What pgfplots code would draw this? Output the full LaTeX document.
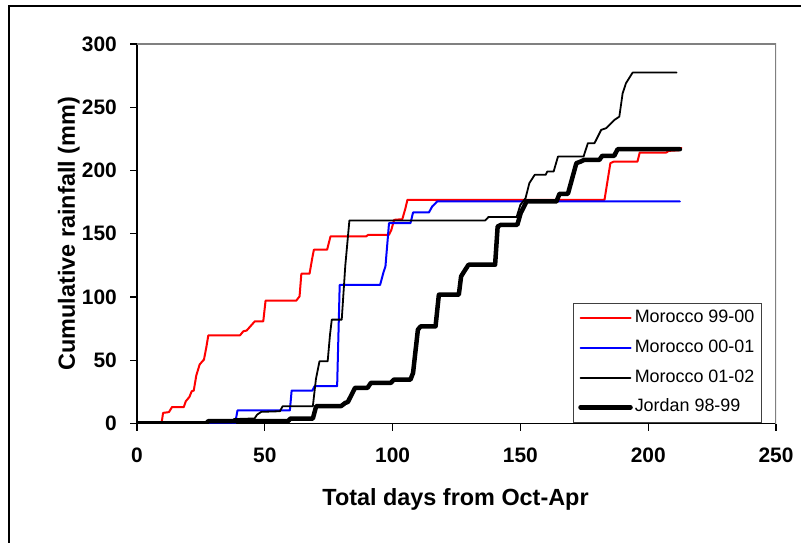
\documentclass[border=0pt]{standalone}
\usepackage{pgfplots}
\pgfplotsset{compat=1.18}
\usepackage{fontspec}
\setmainfont{Liberation Sans}
\begin{document}
\begin{tikzpicture}
\useasboundingbox (0bp,0bp) rectangle (801bp,543bp);
\draw[line width=1.2bp] (9bp,0bp) -- (9bp,537bp) -- (801bp,537bp);
\begin{axis}[
  at={(137bp,119.5bp)}, anchor=south west, scale only axis,
  width=639bp, height=379.5bp,
  xmin=0, xmax=250, ymin=0, ymax=300,
  xtick={0,50,...,250}, ytick={0,50,...,300},
  axis x line*=bottom, axis y line*=left,
  axis line style={black, line width=1.3bp, -},
  tick align=outside, major tick length=7bp,
  tick style={black, line width=1.1bp},
  /pgf/number format/assume math mode=true,
  ticklabel style={font=\bfseries\fontsize{21}{25}\selectfont, inner sep=0pt},
  xticklabel style={anchor=base, yshift=-32bp},
  yticklabel style={anchor=east, xshift=-13bp},
  xlabel={Total days from Oct-Apr},
  ylabel={Cumulative rainfall (mm)},
  xlabel style={at={(axis description cs:0.4985,-0.2148)}, anchor=base, inner sep=0pt, font=\bfseries\fontsize{23.5}{28}\selectfont},
  ylabel style={at={(axis description cs:-0.0973,0.5)}, anchor=base, inner sep=0pt, font=\bfseries\fontsize{23.5}{28}\selectfont},
  legend cell align=left,
  legend image code/.code={\draw[#1] (0bp,0bp) -- (50bp,0bp);},
  legend style={at={(axis description cs:0.682,0.3175)}, anchor=north west,
    draw=black!75, line width=0.9bp, fill=white,
    font=\fontsize{18}{20}\selectfont,
    inner xsep=5bp, inner ysep=5bp, row sep=10.2bp,
    nodes={inner xsep=2bp, inner ysep=1.5bp, text height=12.9bp, text depth=3.6bp}},
  every axis plot/.append style={line join=round, line cap=round},
]
\addplot[red, line width=2bp] coordinates {
(0,0)(9.6,0)(10.2,8.4)(12.5,9)(13.7,13)(18.3,13)(19.1,17.6)(20.5,21)(21.4,25.5)(22.2,26)(23.2,38)(24.5,46.6)(25.5,49)(26.2,50.5)(27.1,60)(27.9,69.7)(40.3,69.7)(41.6,72.9)(42.9,73.5)(44,76)(46.1,80.8)(49.4,80.8)(50.3,97.1)(62.3,97.1)(63.6,100.5)(64.3,118.4)(67.5,118.4)(68.5,130)(69.2,137.4)(74.4,137.4)(75.7,147.9)(89.6,147.9)(90.5,149.2)(98.6,149.2)(99.5,153)(100.6,161)(103.8,161.5)(105,170)(105.8,176.8)(182.9,176.8)(185.2,205.8)(186.5,207)(195.8,207)(196.7,214.2)(207.1,214.2)(208,215.5)(212,216)(213,218)
};
\addlegendentry{Morocco 99-00}
\addplot[blue, line width=2bp] coordinates {
(0,0)(38.4,0)(39.3,10.3)(59.8,10.3)(60.5,26)(68.6,26)(69.5,29.5)(78.3,29.5)(79.3,109.5)(95.1,109.5)(96.5,120)(97.2,124.2)(98.6,158.4)(107,158.4)(108,166.8)(114.2,166.8)(115.5,171.6)(116.5,173.5)(117.4,175.5)(212.4,175.5)
};
\addlegendentry{Morocco 00-01}
\addplot[black, line width=1.8bp] coordinates {
(0,0)(27,0)(28,1)(37,1)(38,3.5)(46,4)(47,7)(48.6,9.2)(55.9,9.7)(57,13.7)(68.8,13.7)(70,35)(71.4,49.2)(74.6,49.2)(75.5,70)(76.2,82.1)(80.1,82.1)(81.5,125)(83.1,160.5)(136.2,160.5)(137.5,163.2)(148.5,163.2)(150,172.9)(152,178)(153.5,190)(155.6,196.6)(159.9,196.6)(160.5,199.2)(163,199.2)(164.7,211)(174.7,211)(176.4,221.6)(179,221.6)(181.6,232.1)(183.5,233.4)(186.8,240)(188.7,242.6)(190,261)(191.3,269)(193.9,277.4)(211.1,277.4)
};
\addlegendentry{Morocco 01-02}
\addplot[black, line width=4.5bp] coordinates {
(0,0)(27.2,0)(27.8,1.8)(59.1,1.8)(60,3.9)(68.8,3.9)(70.1,13.7)(79.8,13.7)(81.5,16.3)(82.5,17)(85.3,28.2)(90.2,28.2)(91.5,32.1)(99.3,32.1)(100.5,34.7)(107,34.7)(108,40)(109.9,74.2)(111,76.8)(116.8,76.8)(118.1,101.8)(125.9,101.8)(126.8,116.3)(128,120.2)(129.7,125.5)(140.1,125.5)(141.1,155.8)(142.5,157.1)(148.8,157.1)(150.1,166.3)(152.4,175.5)(164.1,175.5)(165.3,181.6)(168.6,181.6)(171.9,205.8)(173.5,207)(175,208.4)(180.9,208.4)(182,211.6)(186.7,211.6)(188,216.8)(212.4,216.8)
};
\addlegendentry{Jordan 98-99}
\draw[gray, line width=2bp] (rel axis cs:0,1) -- (rel axis cs:1,1) -- (rel axis cs:1,0);
\end{axis}
\end{tikzpicture}
\end{document}
